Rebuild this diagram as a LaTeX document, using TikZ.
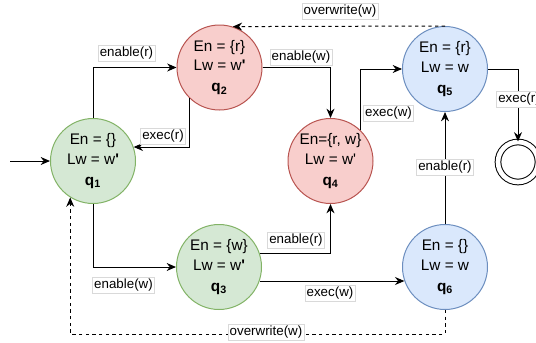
\documentclass[tikz,border=0pt]{standalone}
\usepackage{fontspec}
\setmainfont{Liberation Sans}
\usetikzlibrary{arrows.meta}
\definecolor{vertfond}{HTML}{D5E8D4}
\definecolor{vertbord}{HTML}{82B366}
\definecolor{rougefond}{HTML}{F8CECC}
\definecolor{rougebord}{HTML}{B85450}
\definecolor{bleufond}{HTML}{DAE8FC}
\definecolor{bleubord}{HTML}{6C8EBF}

\begin{document}
\begin{tikzpicture}[x=0.75pt, y=-0.75pt, trans/.style={-{Stealth[length=7pt, width=6pt]}, line width=0.75pt}, ecrase/.style={trans, dash pattern=on 2.5pt off 2.5pt}]
        \tikzset{etat/.style={circle, minimum size=63.75pt, inner sep=0pt, line width=0.75pt, align=center, font=\fontsize{11.5}{14.8}\selectfont}};
        \tikzset{vert/.style={etat, fill=vertfond, draw=vertbord}, rouge/.style={etat, fill=rougefond, draw=rougebord}, bleu/.style={etat, fill=bleufond, draw=bleubord}};
        \tikzset{lbl/.style={fill=white, draw=black!15, line width=0.4pt, inner sep=1.2pt, font=\fontsize{10}{12}\selectfont}};
        \useasboundingbox (0, 0) rectangle (536, 343);
        \node[vert] (q1) at (93, 161) {En = \{\}\\Lw = w\textbf{\textquotesingle}\\[1pt] \textbf{q}\textsubscript{\textbf{1}}};
        \node[rouge] (q2) at (219.5, 67.5) {En = \{r\}\\Lw = w\textbf{\textquotesingle}\\[1pt] \textbf{q}\textsubscript{\textbf{2}}};
        \node[vert] (q3) at (219, 267) {En = \{w\}\\Lw = w\textbf{\textquotesingle}\\[1pt] \textbf{q}\textsubscript{\textbf{3}}};
        \node[rouge] (q4) at (330.5, 161) {En=\{r, w\}\\Lw = w\textquotesingle\\[1pt] \textbf{q}\textsubscript{\textbf{4}}};
        \node[bleu] (q5) at (445, 69) {En = \{r\}\\Lw = w\\[1pt] \textbf{q}\textsubscript{\textbf{5}}};
        \node[bleu] (q6) at (445, 267) {En = \{\}\\Lw = w\\[1pt] \textbf{q}\textsubscript{\textbf{6}}};
        \node[circle, draw, line width=0.75pt, minimum size=30pt, double, double distance=3.5pt] (fin) at (518, 162) {};
        \coordinate (init) at (10, 161);

        \draw[trans] (init) -- (q1.west);
        \draw[trans] (q1.north) |- (q2.west);
        \draw[trans] (q2.226) |- (q1.19);
        \draw[trans] (q2.east) -| (q4.north);
        \draw[trans] (q4.46) |- (q5.west);
        \draw[trans] (q5.east) -| (fin.north);
        \draw[trans] (q6.north) -- (q5.south);
        \draw[trans] (q1.south) |- (q3.west);
        \draw[trans] (q3.19) -| (q4.south);
        \draw[trans] (q3.-19) -- (q6.-161);
        \draw[ecrase] (q5.north) -- (q2.72);
        \draw[ecrase] (q6.south) -- ++(0, 24) -| (q1.238);

        \node[lbl] (l12) at (126.5, 53.5) {enable(r)};
        \node[lbl] (l21) at (163, 136.5) {exec(r)};
        \node[lbl] (l24) at (301, 57.5) {enable(w)};
        \node[lbl] (l52) at (340, 11) {overwrite(w)};
        \node[lbl] (l45) at (388.5, 113) {exec(w)};
        \node[lbl] (l5f) at (519, 99) {exec(r)};
        \node[lbl] (l65) at (445, 167.5) {enable(r)};
        \node[lbl] (l34) at (296, 240.5) {enable(r)};
        \node[lbl] (l13) at (123.5, 285) {enable(w)};
        \node[lbl] (l36) at (330, 293.5) {exec(w)};
        \node[lbl] (l61) at (266, 332.5) {overwrite(w)};
\end{tikzpicture}
\end{document}
